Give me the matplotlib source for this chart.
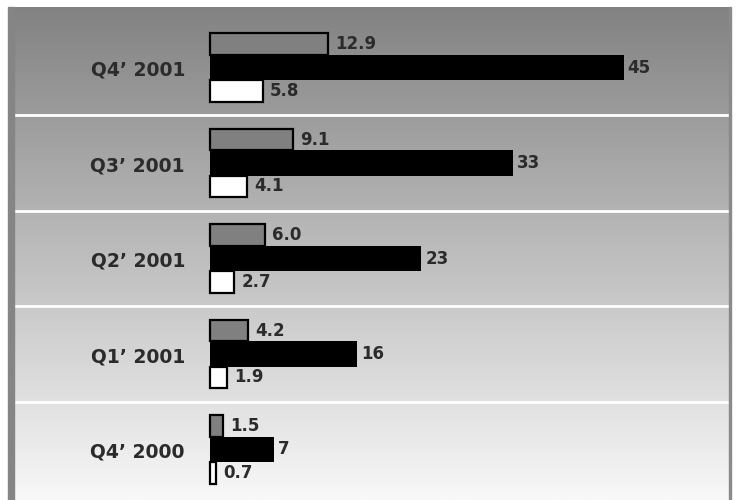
import numpy as np
import matplotlib
matplotlib.use("Agg")
import matplotlib.pyplot as plt
from matplotlib.patches import Rectangle

categories = ["Q4\u2019 2001", "Q3\u2019 2001", "Q2\u2019 2001", "Q1\u2019 2001", "Q4\u2019 2000"]
gray_vals = [12.9, 9.1, 6.0, 4.2, 1.5]
black_vals = [45, 33, 23, 16, 7]
white_vals = [5.8, 4.1, 2.7, 1.9, 0.7]

W, H = 737, 500
fig = plt.figure(figsize=(W / 100, H / 100), dpi=100)
fig.patch.set_facecolor("white")

# panel geometry (pixels)
px_left, px_right, px_top = 8, 731, 7
panel = [px_left / W, 0, (px_right - px_left) / W, (H - px_top) / H]

# gradient background
bg = fig.add_axes(panel)
grad = np.linspace(130, 248, 493)[:, None] / 255.0
img = np.repeat(grad[:, :, None], 3, axis=2)
bg.imshow(img, aspect="auto", extent=[0, 1, 0, 1], interpolation="bilinear")
bg.set_axis_off()

# border strips
fig.patches.append(Rectangle((px_left / W, 0), 6 / W, (H - px_top) / H,
                             transform=fig.transFigure, color="#858585", zorder=5))
fig.patches.append(Rectangle((729 / W, 0), 2 / W, (H - px_top) / H,
                             transform=fig.transFigure, color="#8a8a8a", zorder=5))

ax = fig.add_axes(panel)
ax.set_facecolor("none")
scale = 9.2  # px per unit
x0 = 209.5
ax.set_xlim(-(x0 - px_left) / scale, (px_right - x0) / scale)
row_px = 95.5
first_center = 67.5 - px_top
top = -first_center / row_px
ax.set_ylim(top + (H - px_top) / row_px, top)
ax.set_axis_off()

y = np.arange(len(categories))
off = 0.245
ax.barh(y - off, gray_vals, height=0.225, left=0, color="#808080",
        edgecolor="black", linewidth=1.6, zorder=3)
ax.barh(y, black_vals, height=0.265, left=0, color="black", edgecolor="none", zorder=2)
ax.barh(y + off, white_vals, height=0.225, left=0, color="white",
        edgecolor="black", linewidth=1.6, zorder=3)

tc = "#2b2b2b"
for i in range(len(categories)):
    ax.annotate(f"{gray_vals[i]:.1f}", (gray_vals[i], y[i] - off), xytext=(5, 0),
                textcoords="offset points", va="center", ha="left",
                fontsize=12, fontweight="bold", color=tc)
    ax.annotate(f"{black_vals[i]:d}", (black_vals[i], y[i]), xytext=(3, 0),
                textcoords="offset points", va="center", ha="left",
                fontsize=12, fontweight="bold", color=tc)
    ax.annotate(f"{white_vals[i]:.1f}", (white_vals[i], y[i] + off), xytext=(5, 0),
                textcoords="offset points", va="center", ha="left",
                fontsize=12, fontweight="bold", color=tc)
    ax.text((185 - px_left) / (px_right - px_left), y[i] + 0.03, categories[i],
            transform=ax.get_yaxis_transform(), ha="right", va="center",
            fontsize=13.5, fontweight="bold", color=tc)

for k in range(len(categories) - 1):
    ax.axhline(k + 0.5, xmin=(14 - px_left) / (px_right - px_left),
               xmax=(729 - px_left) / (px_right - px_left), color="white",
               linewidth=2, zorder=1)

fig.savefig("out.png", dpi=100)
